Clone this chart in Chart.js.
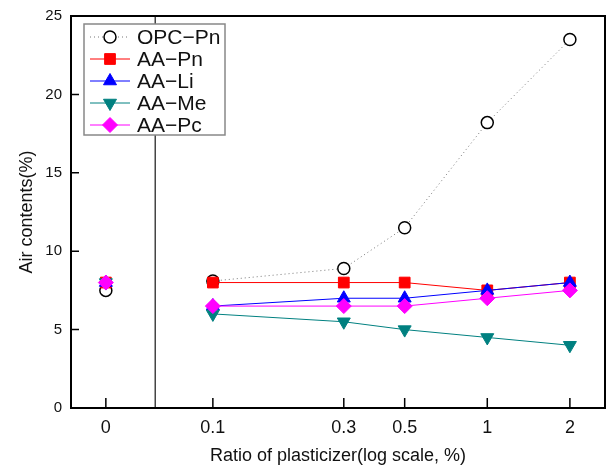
<!DOCTYPE html>
<html>
<head>
<meta charset="utf-8">
<script src="https://cdn.jsdelivr.net/npm/chart.js@4/dist/chart.umd.min.js"></script>
<style>
  body { margin: 0; background: #fff; }
</style>
</head>
<body>
<canvas id="airChart" width="607" height="467"></canvas>
<script>
// ratio of plasticizer (%), 0 sits left of the axis break
const ratios = [0, 0.1, 0.3, 0.5, 1, 2];
const tickLabels = ['0', '0.1', '0.3', '0.5', '1', '2'];
const seriesNames = ['OPC\u2212Pn', 'AA\u2212Pn', 'AA\u2212Li', 'AA\u2212Me', 'AA\u2212Pc'];
const opcPn = [7.5, 8.1, 8.9, 11.5, 18.2, 23.5];
const aaPn = [8.0, 8.0, 8.0, 8.0, 7.5, 8.0];
const aaLi = [8.0, 6.5, 7.0, 7.0, 7.5, 8.0];
const aaMe = [8.0, 6.0, 5.5, 5.0, 4.5, 4.0];
const aaPc = [8.0, 6.5, 6.5, 6.5, 7.0, 7.5];
const yTicks = [0, 5, 10, 15, 20, 25];

// x axis is log10 of the ratio, zero is parked left of the break
const ZERO_POS = -1.39;
const BREAK_POS = -1.21;
const xPos = ratios.map(r => r === 0 ? ZERO_POS : Math.log10(r));

const styles = [
    { line: '#777777', dash: [1, 3], pointStyle: 'circle', radius: 6, fill: '#ffffff', stroke: '#000000', bw: 1.5, rot: 0 },
    { line: '#ff0000', dash: [], pointStyle: 'rect', radius: 7.6, fill: '#ff0000', stroke: '#ff0000', bw: 1, rot: 0 },
    { line: '#0000ff', dash: [], pointStyle: 'triangle', radius: 7.5, fill: '#0000ff', stroke: '#0000ff', bw: 1, rot: 0 },
    { line: '#008080', dash: [], pointStyle: 'triangle', radius: 7.5, fill: '#008080', stroke: '#008080', bw: 1, rot: 180 },
    { line: '#ff00ff', dash: [], pointStyle: 'rectRot', radius: 7.5, fill: '#ff00ff', stroke: '#ff00ff', bw: 1, rot: 0 }
];
const series = [opcPn, aaPn, aaLi, aaMe, aaPc];

Chart.defaults.font.family = '"Liberation Sans", Arial, sans-serif';
Chart.defaults.color = '#111';

const datasets = series.map((vals, i) => {
    const s = styles[i];
    return {
        label: seriesNames[i],
        data: vals.map((v, k) => ({ x: xPos[k], y: v })),
        borderColor: s.line,
        borderWidth: 1,
        borderDash: s.dash,
        pointStyle: s.pointStyle,
        pointRadius: s.radius,
        pointRotation: s.rot,
        pointBackgroundColor: s.fill,
        pointBorderColor: s.stroke,
        pointBorderWidth: s.bw,
        tension: 0,
        order: series.length - i,
        // no line across the axis break
        segment: {
            borderColor: ctx => ctx.p0DataIndex === 0 ? 'rgba(0,0,0,0)' : s.line
        }
    };
});

const frame = {
    id: 'frame',
    beforeDatasetsDraw(chart) {
        const { ctx, chartArea: a, scales } = chart;
        ctx.save();
        // axis break line
        const bx = scales.x.getPixelForValue(BREAK_POS);
        ctx.strokeStyle = '#444';
        ctx.lineWidth = 1.5;
        ctx.beginPath();
        ctx.moveTo(bx, a.top);
        ctx.lineTo(bx, a.bottom);
        ctx.stroke();
        // inward ticks
        ctx.strokeStyle = '#000';
        ctx.lineWidth = 1.5;
        ctx.beginPath();
        yTicks.forEach(v => {
            const y = scales.y.getPixelForValue(v);
            ctx.moveTo(a.left, y);
            ctx.lineTo(a.left + 8, y);
        });
        xPos.forEach(v => {
            const x = scales.x.getPixelForValue(v);
            ctx.moveTo(x, a.bottom);
            ctx.lineTo(x, a.bottom - 10);
        });
        ctx.stroke();
        ctx.lineWidth = 2;
        ctx.strokeRect(a.left, a.top, a.right - a.left, a.bottom - a.top);
        ctx.restore();
    },
    afterDraw(chart) {
        const ctx = chart.ctx;
        ctx.save();
        // legend box
        ctx.fillStyle = '#fff';
        ctx.fillRect(84, 24, 141, 111);
        ctx.strokeStyle = '#888';
        ctx.lineWidth = 1.5;
        ctx.strokeRect(84, 24, 141, 111);
        ctx.font = '21px "Liberation Sans", Arial, sans-serif';
        ctx.textBaseline = 'middle';
        seriesNames.forEach((name, i) => {
            const s = styles[i];
            const y = 37 + i * 22;
            ctx.strokeStyle = s.line;
            ctx.lineWidth = 1;
            ctx.setLineDash(s.dash);
            ctx.beginPath();
            ctx.moveTo(90, y);
            ctx.lineTo(130, y);
            ctx.stroke();
            ctx.setLineDash([]);
            ctx.fillStyle = s.fill;
            ctx.strokeStyle = s.stroke;
            ctx.lineWidth = s.bw;
            Chart.helpers.drawPoint(ctx, { pointStyle: s.pointStyle, radius: s.radius, rotation: s.rot, borderWidth: s.bw }, 110, y);
            ctx.fillStyle = '#111';
            ctx.fillText(name, 137, y + 1);
        });
        ctx.restore();
    }
};

new Chart(document.getElementById('airChart'), {
    type: 'line',
    data: { datasets: datasets },
    options: {
        responsive: false,
        animation: false,
        layout: { autoPadding: false, padding: { top: 16, right: 2, left: 0, bottom: 0 } },
        plugins: { legend: { display: false }, tooltip: { enabled: false } },
        scales: {
            x: {
                type: 'linear',
                min: -1.517,
                max: 0.429,
                grid: { display: false, drawTicks: false },
                border: { display: false },
                afterBuildTicks: s => { s.ticks = xPos.map(v => ({ value: v })); },
                afterFit: s => { s.height = 59; s.paddingLeft = 0; s.paddingRight = 0; },
                ticks: {
                    autoSkip: false,
                    maxRotation: 0,
                    padding: 9,
                    font: { size: 18 },
                    callback: (v, i) => tickLabels[i]
                },
                title: {
                    display: true,
                    text: 'Ratio of plasticizer(log scale, %)',
                    font: { size: 18 },
                    padding: { top: 4, bottom: 0 }
                }
            },
            y: {
                min: 0,
                max: 25,
                grid: { display: false, drawTicks: false },
                border: { display: false },
                afterBuildTicks: s => { s.ticks = yTicks.map(v => ({ value: v })); },
                afterFit: s => { s.width = 71; s.paddingTop = 0; s.paddingBottom = 0; },
                ticks: {
                    padding: 9,
                    font: { size: 15 }
                },
                title: {
                    display: true,
                    text: 'Air contents(%)',
                    font: { size: 18 },
                    padding: { top: 16, bottom: 0 }
                }
            }
        }
    },
    plugins: [frame]
});
</script>
</body>
</html>
